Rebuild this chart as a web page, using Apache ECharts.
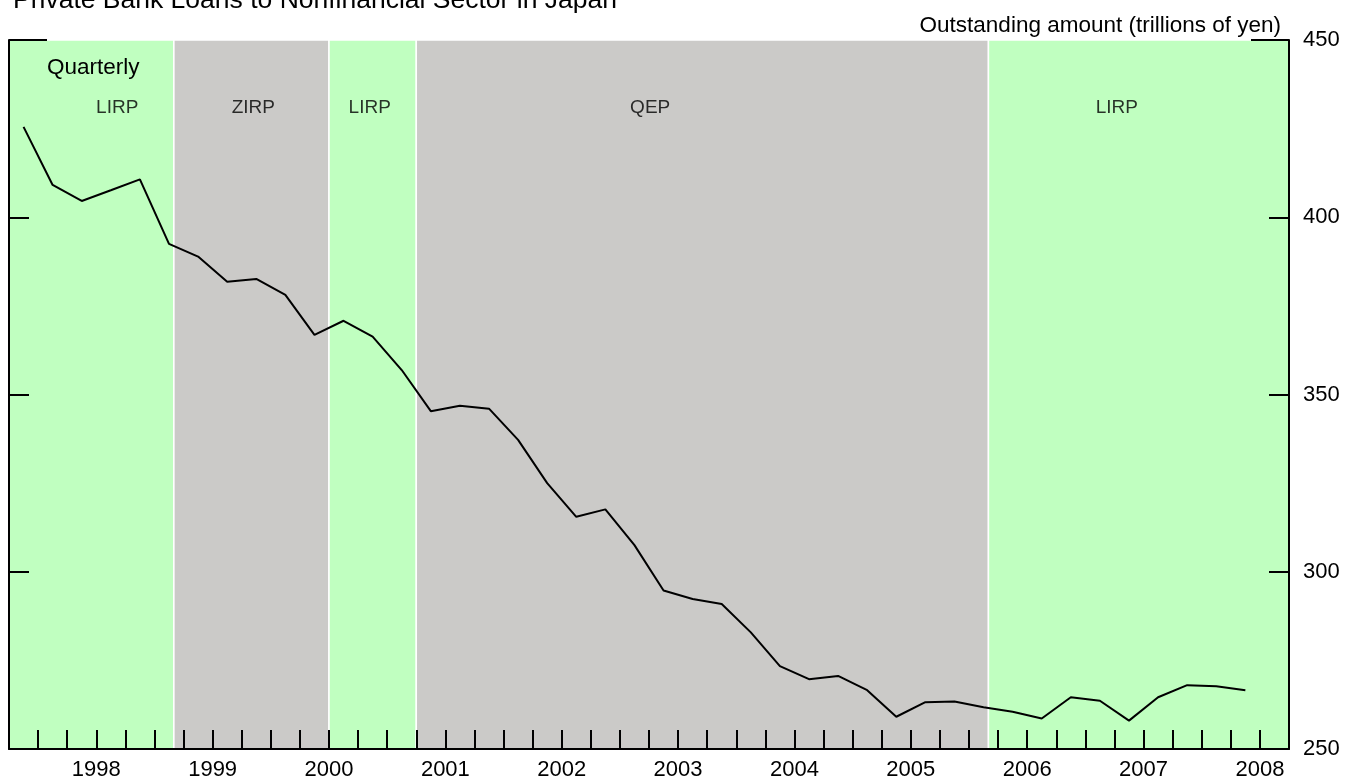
<!DOCTYPE html>
<html>
<head>
<meta charset="utf-8">
<title>Private Bank Loans to Nonfinancial Sector in Japan</title>
<script src="https://cdn.jsdelivr.net/npm/echarts@6/dist/echarts.min.js"></script>
<style>
    html, body { margin: 0; padding: 0; background: #fff; }
    #chart { width: 1346px; height: 783px; }
</style>
</head>
<body>
<div id="chart"></div>
<script>
// outstanding amount, trillions of yen, one value per quarter
const quarters = [
    '1997Q2', '1997Q3', '1997Q4',
    '1998Q1', '1998Q2', '1998Q3', '1998Q4',
    '1999Q1', '1999Q2', '1999Q3', '1999Q4',
    '2000Q1', '2000Q2', '2000Q3', '2000Q4',
    '2001Q1', '2001Q2', '2001Q3', '2001Q4',
    '2002Q1', '2002Q2', '2002Q3', '2002Q4',
    '2003Q1', '2003Q2', '2003Q3', '2003Q4',
    '2004Q1', '2004Q2', '2004Q3', '2004Q4',
    '2005Q1', '2005Q2', '2005Q3', '2005Q4',
    '2006Q1', '2006Q2', '2006Q3', '2006Q4',
    '2007Q1', '2007Q2', '2007Q3', '2007Q4'
];
const loans = [
    425.5, 409.1, 404.6,
    407.6, 410.7, 392.5, 388.9,
    381.8, 382.6, 378.1, 366.8,
    370.8, 366.3, 356.9, 345.3,
    346.8, 346.0, 337.2, 325.0,
    315.5, 317.6, 307.5, 294.7,
    292.3, 290.9, 282.9, 273.4,
    269.7, 270.6, 266.6, 259.1,
    263.2, 263.4, 261.8, 260.5,
    258.6, 264.6, 263.6, 258.0,
    264.6, 268.0, 267.7, 266.6
];

const yearTicks = [1998, 1999, 2000, 2001, 2002, 2003, 2004, 2005, 2006, 2007, 2008];

// monetary policy regimes (fractional years)
const regimeNames = ['LIRP', 'ZIRP', 'LIRP', 'QEP', 'LIRP'];
const regimeStart = [1997.25, 1998.667, 2000.0, 2000.75, 2005.667];
const regimeEnd   = [1998.667, 2000.0, 2000.75, 2005.667, 2008.25];
// where each regime name is written (year)
const regimeLabelYear = [1998.18, 1999.35, 2000.35, 2002.76, 2006.77];
const regimeLabelValue = 431;

const FONT = 'Liberation Sans, Arial, Helvetica, sans-serif';
const regimeColor = { LIRP: '#c0ffc0', ZIRP: '#cbcac8', QEP: '#cbcac8' };

function quarterMid(q) {
    const year = parseInt(q.slice(0, 4), 10);
    const n = parseInt(q.slice(5), 10);
    return year + (n - 1) * 0.25 + 0.125;
}

const lineData = quarters.map((q, i) => [quarterMid(q), loans[i]]);

const areas = regimeNames.map((name, i) => [
    { xAxis: regimeStart[i], yAxis: 450, itemStyle: { color: regimeColor[name] } },
    { xAxis: regimeEnd[i], yAxis: 250 }
]);

const regimeLabels = regimeNames.map((name, i) => ({
    name: name,
    value: [regimeLabelYear[i], regimeLabelValue]
}));

function valueAxis(position, opts) {
    return Object.assign({
        type: 'value',
        position: position,
        min: 250,
        max: 450,
        interval: 50,
        z: 5,
        axisLine: { show: true, lineStyle: { color: '#000', width: 2 } },
        axisTick: { show: true, inside: true, length: 20, lineStyle: { color: '#000', width: 2 } },
        axisLabel: { show: false },
        splitLine: { show: false }
    }, opts);
}

const chart = echarts.init(document.getElementById('chart'), null, { renderer: 'canvas' });

chart.setOption({
    animation: false,
    backgroundColor: '#fff',
    textStyle: { fontFamily: FONT },
    title: [
        {
            text: 'Private Bank Loans to Nonfinancial Sector in Japan',
            left: 8,
            top: -18,
            textStyle: { fontFamily: FONT, fontSize: 26.5, fontWeight: 'normal', color: '#000' }
        },
        {
            text: 'Outstanding amount (trillions of yen)',
            right: 60,
            top: 9,
            textStyle: { fontFamily: FONT, fontSize: 22.5, fontWeight: 'normal', color: '#000' }
        },
        {
            text: 'Quarterly',
            left: 42,
            top: 51,
            textStyle: { fontFamily: FONT, fontSize: 22.5, fontWeight: 'normal', color: '#000' }
        }
    ],
    grid: { left: 9, right: 57, top: 40, bottom: 34, containLabel: false },
    xAxis: {
        type: 'value',
        min: 1997.25,
        max: 2008.25,
        interval: 0.25,
        z: 5,
        axisLine: { show: true, onZero: false, lineStyle: { color: '#000', width: 2 } },
        axisTick: { show: true, inside: true, length: 19, lineStyle: { color: '#000', width: 2 } },
        axisLabel: {
            customValues: yearTicks,
            formatter: v => String(Math.round(v)),
            color: '#000',
            fontFamily: FONT,
            fontSize: 22,
            margin: 10
        },
        splitLine: { show: false }
    },
    yAxis: [
        valueAxis('left', {}),
        valueAxis('right', {
            axisLabel: { show: true, color: '#000', fontFamily: FONT, fontSize: 22, margin: 14 }
        }),
        // longer stubs at the top of both sides
        valueAxis('left', {
            axisLine: { show: false },
            axisTick: { show: true, inside: true, length: 38, customValues: [450], lineStyle: { color: '#000', width: 2 } }
        }),
        valueAxis('right', {
            axisLine: { show: false },
            axisTick: { show: true, inside: true, length: 38, customValues: [450], lineStyle: { color: '#000', width: 2 } }
        })
    ],
    series: [
        {
            name: 'Loans',
            type: 'line',
            data: lineData,
            showSymbol: false,
            symbol: 'none',
            lineStyle: { color: '#000', width: 2 },
            z: 3,
            markArea: {
                silent: true,
                itemStyle: { borderColor: '#fff', borderWidth: 1.5 },
                data: areas
            }
        },
        {
            name: 'Regimes',
            type: 'scatter',
            data: regimeLabels,
            symbolSize: 0,
            silent: true,
            z: 4,
            label: {
                show: true,
                position: 'inside',
                formatter: p => p.name,
                color: '#000',
                fontFamily: FONT,
                fontSize: 19
            }
        }
    ]
});
</script>
</body>
</html>
